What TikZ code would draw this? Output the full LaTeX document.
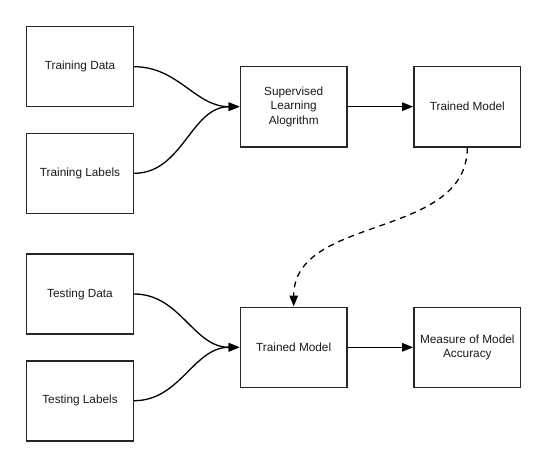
\documentclass[tikz,border=0pt]{standalone}
\usepackage{fontspec}
\setmainfont{Liberation Sans}
\usetikzlibrary{arrows.meta}
\begin{document}
\begin{tikzpicture}[x=1pt,y=1pt,
  box/.style={draw=black!85, line width=1.6pt, minimum width=106.7pt, minimum height=80pt, inner sep=0pt, align=center, font=\fontsize{11.8}{14.5}\selectfont, text=black!90},
  conn/.style={draw=black, line width=1.3pt, -{Triangle[length=11pt,width=8.5pt]}},
  dconn/.style={conn, dash pattern=on 6pt off 5pt}]
\useasboundingbox (0,0) rectangle (548,-468);
\node[box] (td) at (80,-66.7) {Training Data};
\node[box] (tl) at (80,-173.3) {Training Labels};
\node[box] (sla) at (293.7,-106.7) {Supervised\\Learning\\Alogrithm};
\node[box] (tm1) at (467.3,-106.7) {Trained Model};
\node[box] (ted) at (80,-294) {Testing Data};
\node[box] (tel) at (80,-400.7) {Testing Labels};
\node[box] (tm2) at (293.7,-347.3) {Trained Model};
\node[box] (ma) at (467.3,-347.3) {Measure of Model\\Accuracy};
\draw[conn] (td.east) to[out=0,in=180] (sla.west);
\draw[conn] (tl.east) to[out=0,in=180] (sla.west);
\draw[conn] (sla.east) -- (tm1.west);
\draw[dconn] (tm1.south) to[out=-90,in=90] (tm2.north);
\draw[conn] (ted.east) to[out=0,in=180] (tm2.west);
\draw[conn] (tel.east) to[out=0,in=180] (tm2.west);
\draw[conn] (tm2.east) -- (ma.west);
\end{tikzpicture}
\end{document}
